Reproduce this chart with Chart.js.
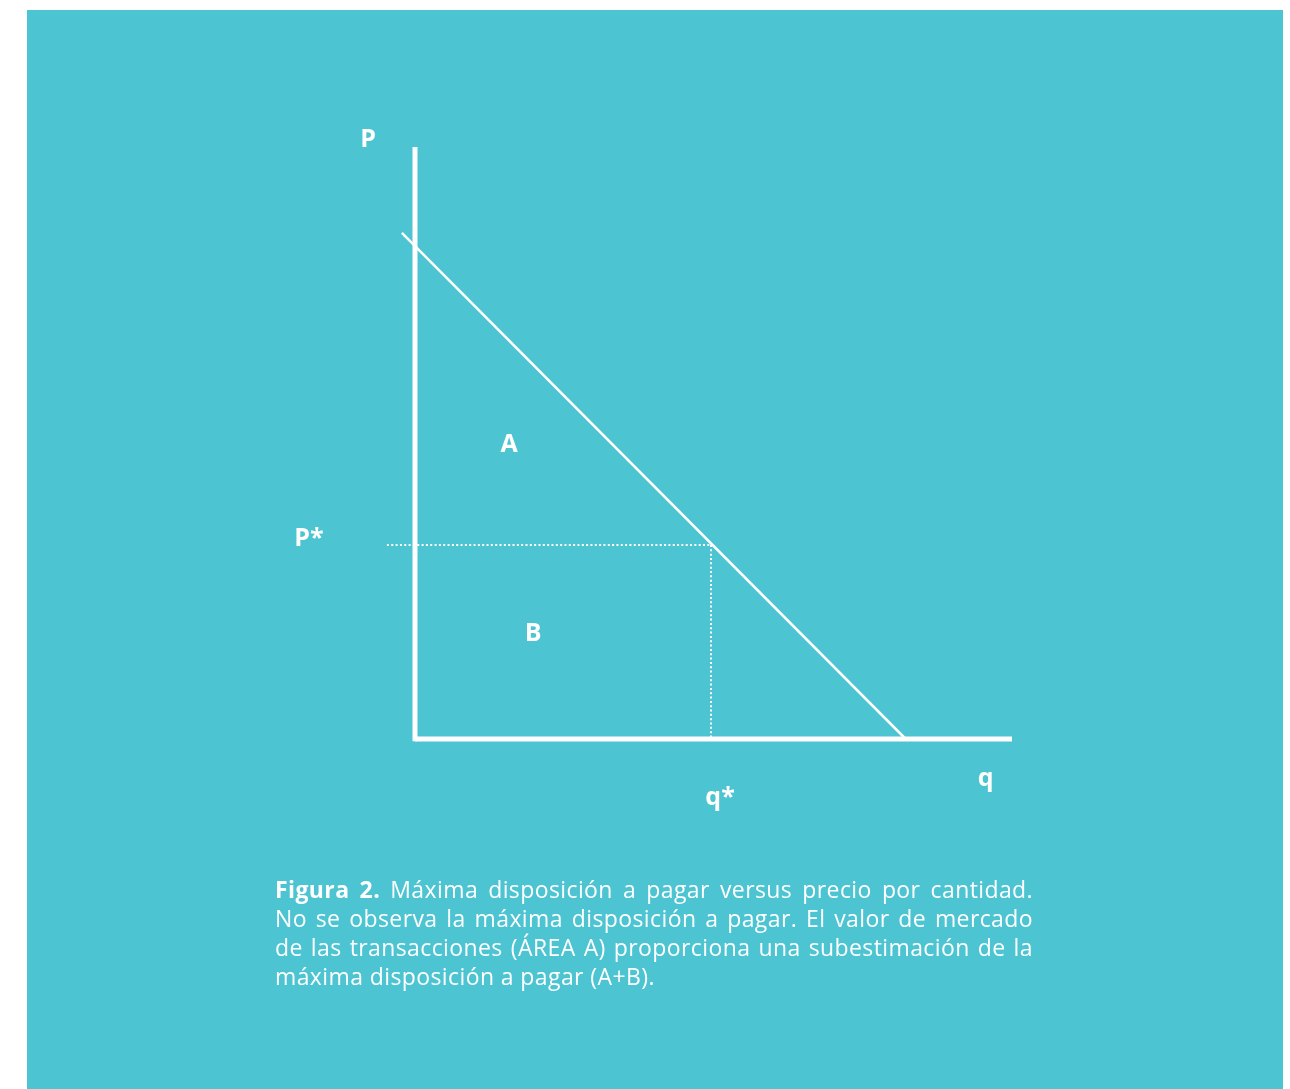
<!DOCTYPE html>
<html>
<head>
<meta charset="utf-8">
<script src="https://cdn.jsdelivr.net/npm/chart.js@4"></script>
<style>
  html, body { margin: 0; padding: 0; background: #ffffff; }
  #wrap { position: relative; width: 1290px; height: 1089px; }
  #caption {
    position: absolute;
    left: 275px;
    top: 875px;
    width: 758px;
    font-family: 'Open Sans', sans-serif;
    font-size: 23px;
    letter-spacing: 0.4px;
    line-height: 29px;
    color: #ffffff;
    text-align: justify;
  }
</style>
</head>
<body>
<div id="wrap">
  <canvas id="demandChart" width="1290" height="1089"></canvas>
  <div id="caption"><b>Figura 2.</b> Máxima disposición a pagar versus precio por cantidad. No se observa la máxima disposición a pagar. El valor de mercado de las transacciones (ÁREA A) proporciona una subestimación de la máxima disposición a pagar (A+B).</div>
</div>
<script>
// Ejes (P vertical, q horizontal), en unidades del gráfico 0..10
const axisP = [{ x: 0, y: 10 }, { x: 0, y: -0.04 }];
const axisQ = [{ x: 0, y: 0 }, { x: 10, y: 0 }];

// Curva de demanda
const demandCurve = [{ x: -0.22, y: 8.55 }, { x: 8.22, y: 0 }];

// Equilibrio (q*, P*) y guías punteadas
const pStarGuide = [{ x: -0.47, y: 3.277 }, { x: 4.958, y: 3.277 }];
const qStarGuide = [{ x: 4.958, y: 3.277 }, { x: 4.958, y: 0 }];

// Etiquetas de texto y su posición (línea base)
const labelTexts = ['P', 'P*', 'A', 'B', 'q*', 'q'];
const labelX = [-0.787, -1.776, 1.575, 1.977, 5.11, 9.56];
const labelY = [10.0, 3.26, 4.85, 1.655, -1.115, -0.79];

const TEAL = '#4cc4d2';

const backgroundPlugin = {
    id: 'tealBackground',
    beforeDraw: function(chart) {
        const ctx = chart.ctx;
        ctx.save();
        ctx.fillStyle = '#ffffff';
        ctx.fillRect(0, 0, chart.width, chart.height);
        ctx.fillStyle = TEAL;
        ctx.fillRect(27, 10, 1256, 1079);
        ctx.restore();
    }
};

const labelsPlugin = {
    id: 'graphLabels',
    afterDatasetsDraw: function(chart) {
        const ctx = chart.ctx;
        const xs = chart.scales.x;
        const ys = chart.scales.y;
        ctx.save();
        ctx.fillStyle = '#ffffff';
        ctx.font = 'bold 25px "Open Sans"';
        ctx.textAlign = 'center';
        ctx.textBaseline = 'alphabetic';
        labelTexts.forEach((t, i) => {
            ctx.fillText(t, xs.getPixelForValue(labelX[i]), ys.getPixelForValue(labelY[i]));
        });
        ctx.restore();
    }
};

function lineSet(data, width, dash) {
    return {
        data: data,
        borderColor: '#ffffff',
        borderWidth: width,
        borderDash: dash || [],
        pointRadius: 0,
        showLine: true,
        fill: false,
        tension: 0,
        clip: false
    };
}

new Chart(document.getElementById('demandChart'), {
    type: 'scatter',
    data: {
        datasets: [
            lineSet(pStarGuide, 2, [2, 2.33]),
            lineSet(qStarGuide, 2, [2, 2.33]),
            lineSet(demandCurve, 2.5),
            lineSet(axisP, 5),
            lineSet(axisQ, 5)
        ]
    },
    options: {
        responsive: false,
        animation: false,
        layout: {
            padding: { left: 415, right: 278, top: 147, bottom: 350 }
        },
        plugins: {
            legend: { display: false },
            tooltip: { enabled: false }
        },
        scales: {
            x: { type: 'linear', min: 0, max: 10, display: false },
            y: { type: 'linear', min: 0, max: 10, display: false }
        }
    },
    plugins: [backgroundPlugin, labelsPlugin]
});
</script>
</body>
</html>
